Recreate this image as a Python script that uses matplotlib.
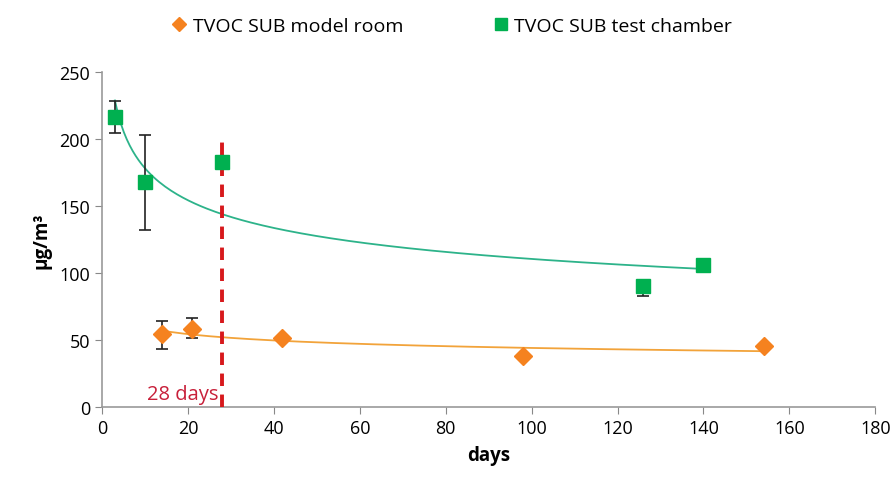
import numpy as np
import matplotlib.pyplot as plt

# TVOC SUB measurements
room_days = [14, 21, 42, 98, 154]
room_vals = [54, 58, 51, 38, 45.5]
room_err_lo = [11, 7, 0, 0, 0]
room_err_hi = [10, 8, 0, 0, 0]

chamber_days = [3, 10, 28, 126, 140]
chamber_vals = [216, 168, 183, 90, 106]
chamber_err_lo = [12, 36, 5, 7, 0]
chamber_err_hi = [12, 35, 0, 0, 0]

orange = '#F5821F'
green = '#00B050'


def power_fit(x, y):
    b, a = np.polyfit(np.log(x), np.log(y), 1)
    xs = np.linspace(min(x), max(x), 200)
    return xs, np.exp(a) * xs ** b


plt.rcParams['font.family'] = ['Open Sans', 'DejaVu Sans']
fig = plt.figure(figsize=(8.95, 4.89), dpi=100)
ax = fig.add_axes([0.114, 0.166, 0.864, 0.685])

# power-law trendlines
xs, ys = power_fit(room_days, room_vals)
ax.plot(xs, ys, color='#F2A33A', lw=1.3, zorder=2)
xs, ys = power_fit(chamber_days, chamber_vals)
ax.plot(xs, ys, color='#2DB38A', lw=1.3, zorder=2)

ax.errorbar(room_days, room_vals, yerr=[room_err_lo, room_err_hi], fmt='none',
            ecolor='#222222', elinewidth=1.2, capsize=4, capthick=1.2, zorder=3)
ax.errorbar(chamber_days, chamber_vals, yerr=[chamber_err_lo, chamber_err_hi], fmt='none',
            ecolor='#222222', elinewidth=1.2, capsize=4, capthick=1.2, zorder=3)

# 28 day marker
ax.plot([28, 28], [0, 200], color='#D7191C', lw=2.8, ls=(0, (3.2, 2.2)), zorder=3)
ax.text(27, 2, '28 days', color='#C8203A', fontsize=14.5, ha='right', va='bottom')

ax.plot(room_days, room_vals, 'D', color=orange, ms=9, ls='none', zorder=4,
        label='TVOC SUB model room')
ax.plot(chamber_days, chamber_vals, 's', color=green, ms=10, ls='none', zorder=4,
        label='TVOC SUB test chamber')

ax.set_xlim(0, 180)
ax.set_ylim(0, 250)
ax.set_xticks(range(0, 181, 20))
ax.set_yticks(range(0, 251, 50))
ax.tick_params(labelsize=13, length=5, color='#888888', direction='out')
for side in ('top', 'right'):
    ax.spines[side].set_visible(False)
for side in ('left', 'bottom'):
    ax.spines[side].set_color('#999999')
    ax.spines[side].set_linewidth(1.2)

ax.set_xlabel('days', fontsize=13.5, fontweight='bold', labelpad=6)
ax.set_ylabel('μg/m³', fontsize=13.5, fontweight='bold', labelpad=6)

fig.legend(loc='upper center', bbox_to_anchor=(0.505, 1.0), ncol=2, frameon=False,
           fontsize=14, handlelength=0.8, handletextpad=0.3, columnspacing=4.6,
           markerscale=0.8)

fig.savefig('out.png', dpi=100)
